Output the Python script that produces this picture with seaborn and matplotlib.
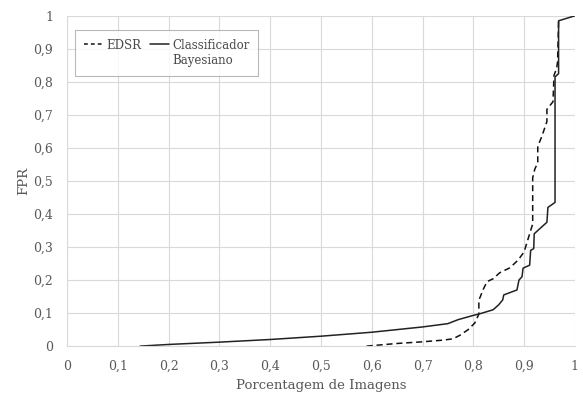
import pandas as pd
import numpy as np
import matplotlib
matplotlib.use('Agg')
import matplotlib.pyplot as plt
from matplotlib.lines import Line2D
import seaborn as sns

# values
edsr_x = [0.59, 0.65, 0.70, 0.74, 0.76, 0.774, 0.79, 0.803, 0.811, 0.811, 0.814, 0.819,
          0.827, 0.839, 0.852, 0.872, 0.888, 0.900, 0.905, 0.911, 0.917, 0.917, 0.921,
          0.927, 0.927, 0.935, 0.945, 0.945, 0.957, 0.959, 0.964, 0.966, 0.968]
edsr_y = [0.0, 0.008, 0.013, 0.018, 0.022, 0.033, 0.05, 0.07, 0.097, 0.14, 0.15, 0.17,
          0.195, 0.204, 0.222, 0.237, 0.26, 0.285, 0.31, 0.34, 0.37, 0.51, 0.535,
          0.556, 0.605, 0.635, 0.68, 0.717, 0.74, 0.82, 0.84, 0.86, 0.985]

bayes_x = [0.144, 0.2, 0.3, 0.4, 0.5, 0.6, 0.7, 0.75, 0.77, 0.8, 0.811, 0.839, 0.85,
           0.858, 0.86, 0.886, 0.89, 0.896, 0.898, 0.911, 0.913, 0.919, 0.92, 0.927,
           0.945, 0.947, 0.961, 0.961, 0.968, 0.968, 1.0]
bayes_y = [0.0, 0.005, 0.012, 0.02, 0.03, 0.042, 0.058, 0.068, 0.08, 0.093, 0.097, 0.11,
           0.125, 0.14, 0.155, 0.17, 0.2, 0.21, 0.236, 0.245, 0.29, 0.295, 0.34, 0.35,
           0.375, 0.42, 0.435, 0.815, 0.825, 0.985, 1.0]

tick_vals = [0, 0.1, 0.2, 0.3, 0.4, 0.5, 0.6, 0.7, 0.8, 0.9, 1]
tick_labels = ['0', '0,1', '0,2', '0,3', '0,4', '0,5', '0,6', '0,7', '0,8', '0,9', '1']

edsr = pd.DataFrame({'x': edsr_x, 'y': edsr_y})
bayes = pd.DataFrame({'x': bayes_x, 'y': bayes_y})

sns.set_theme(style='whitegrid')
plt.rcParams['font.family'] = ['DejaVu Serif']
txt = '#595959'

fig = plt.figure(figsize=(5.83, 3.96), dpi=100)
ax = fig.add_axes([0.115, 0.126, 0.871, 0.834])

sns.lineplot(data=edsr, x='x', y='y', sort=False, estimator=None, ax=ax,
             color='#111111', linewidth=1.1, linestyle=(0, (4, 2.5)))
sns.lineplot(data=bayes, x='x', y='y', sort=False, estimator=None, ax=ax,
             color='#222222', linewidth=1.1)

ax.set_xlim(0, 1)
ax.set_ylim(0, 1)
ax.set_xticks(tick_vals)
ax.set_xticklabels(tick_labels)
ax.set_yticks(tick_vals)
ax.set_yticklabels(tick_labels)
ax.tick_params(axis='both', labelsize=9, colors=txt, length=4, color='#d9d9d9', width=0.8)
ax.tick_params(axis='y', pad=6)
ax.tick_params(axis='x', pad=6)

ax.grid(True, color='#d9d9d9', linewidth=0.8)
for s in ['top', 'right']:
    ax.spines[s].set_visible(False)
for s in ['left', 'bottom']:
    ax.spines[s].set_color('#d9d9d9')
    ax.spines[s].set_linewidth(0.8)

ax.set_xlabel('Porcentagem de Imagens', fontsize=9.5, color=txt, labelpad=4)
ax.set_ylabel('FPR', fontsize=9.5, color=txt, labelpad=2)

# legend: two columns, second label split across two rows
h_edsr = Line2D([], [], color='#111111', linewidth=1.1, linestyle=(0, (2.5, 2)))
h_bayes = Line2D([], [], color='#222222', linewidth=1.1)
h_blank = Line2D([], [], color='none')
leg = ax.legend([h_edsr, h_blank, h_bayes, h_blank],
                ['EDSR', '', 'Classificador', 'Bayesiano'],
                loc='upper left', bbox_to_anchor=(0.016, 0.958), borderaxespad=0,
                ncol=2, fontsize=8.5,
                frameon=True, fancybox=False, edgecolor='#a6a6a6', handlelength=1.6,
                handletextpad=0.3, columnspacing=0.7, borderpad=0.75, labelspacing=0.2)
leg.get_frame().set_linewidth(0.8)
for t in leg.get_texts():
    t.set_color('#4a4a4a')

fig.savefig('out.png', dpi=100)
